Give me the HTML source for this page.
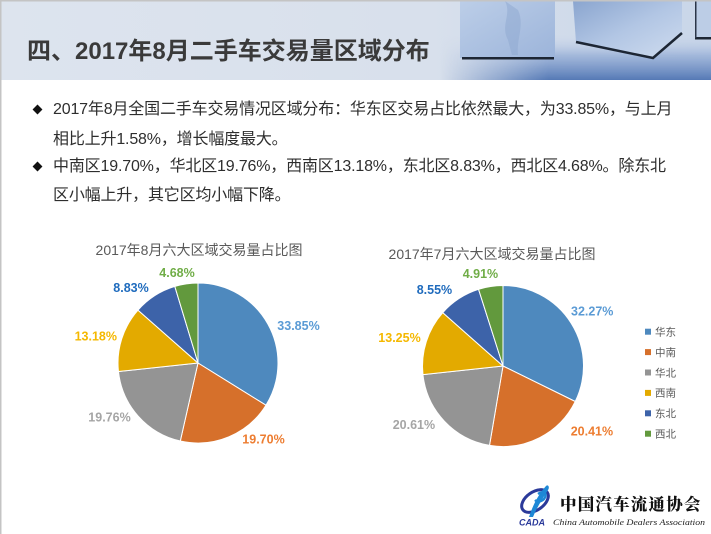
<!DOCTYPE html>
<html><head><meta charset="utf-8">
<style>
html,body{margin:0;padding:0;background:#fff;}
body{width:711px;height:534px;position:relative;overflow:hidden;font-family:"Liberation Sans","Noto Sans CJK SC",sans-serif;}
.t{position:absolute;white-space:nowrap;font-size:16px;line-height:20px;color:#2e2e2e;letter-spacing:-0.17px;font-family:"Liberation Sans","Noto Sans CJK SC",sans-serif;}
.b{position:absolute;width:7px;height:7px;background:#111;transform:rotate(45deg);}
</style></head><body>
<svg width="711" height="534" style="position:absolute;left:0;top:0" xmlns="http://www.w3.org/2000/svg">
<defs>
<linearGradient id="hb" x1="0" y1="0" x2="1" y2="0">
<stop offset="0" stop-color="#dde4ee"/><stop offset="0.6" stop-color="#d8e0ec"/><stop offset="1" stop-color="#c9d6e9"/>
</linearGradient>
<linearGradient id="floor" x1="0" y1="0" x2="0" y2="1">
<stop offset="0" stop-color="#c8d5ea" stop-opacity="0"/><stop offset="0.45" stop-color="#9bb2d8" stop-opacity="0.85"/><stop offset="1" stop-color="#5579b5"/>
</linearGradient>
<linearGradient id="fade" x1="0" y1="0" x2="1" y2="0">
<stop offset="0" stop-color="#fff" stop-opacity="0"/><stop offset="0.4" stop-color="#fff" stop-opacity="1"/><stop offset="1" stop-color="#fff" stop-opacity="1"/>
</linearGradient>
<mask id="fm"><rect x="440" y="0" width="271" height="80" fill="url(#fade)"/></mask>
<linearGradient id="c1" x1="0" y1="0" x2="1" y2="1">
<stop offset="0" stop-color="#bccee8"/><stop offset="1" stop-color="#9cb4da"/>
</linearGradient>
<linearGradient id="c2" x1="0" y1="0" x2="1" y2="1">
<stop offset="0" stop-color="#8aa5cf"/><stop offset="0.5" stop-color="#b2c6e4"/><stop offset="1" stop-color="#cfdcef"/>
</linearGradient>
</defs>
<!-- header band -->
<rect x="0" y="0" width="711" height="80" fill="url(#hb)"/>
<rect x="440" y="35" width="271" height="45" fill="url(#floor)" mask="url(#fm)"/>
<!-- cube 1 -->
<rect x="460" y="1" width="95" height="57" fill="url(#c1)"/>
<path d="M505 1 C512 15 500 25 508 40 L512 55 L518 55 C516 40 525 25 518 10 Z" fill="#8ea8cf" opacity="0.5"/>
<rect x="462" y="57" width="92" height="2.5" fill="#1d2634"/>
<!-- cube 2 -->
<polygon points="573,1 682,1 682,33 653,58 576,42" fill="url(#c2)"/>
<path d="M576 42 L653 58 L682 33" fill="none" stroke="#1d2634" stroke-width="2.5"/>
<!-- cube 3 -->
<rect x="695" y="1" width="16" height="37" fill="#bccde6"/>
<rect x="695" y="37" width="16" height="2.5" fill="#1d2634"/>
<rect x="695" y="1" width="1.5" height="37" fill="#2a3548"/>
<!-- borders -->
<rect x="0" y="0" width="711" height="1.5" fill="#c4c4c4"/>
<rect x="0" y="0" width="1.5" height="534" fill="#c4c4c4"/>

<!-- left pie -->
<g stroke="#fff" stroke-width="1" stroke-linejoin="round">
<path d="M198,363 L198,283 A80,80 0 0,1 265.94,405.22 Z" fill="#4e89be"/>
<path d="M198,363 L265.94,405.22 A80,80 0 0,1 180.30,441.02 Z" fill="#d6702b"/>
<path d="M198,363 L180.30,441.02 A80,80 0 0,1 118.45,371.48 Z" fill="#949494"/>
<path d="M198,363 L118.45,371.48 A80,80 0 0,1 137.95,310.14 Z" fill="#e3aa00"/>
<path d="M198,363 L137.95,310.14 A80,80 0 0,1 174.82,286.43 Z" fill="#3d63a9"/>
<path d="M198,363 L174.82,286.43 A80,80 0 0,1 198,283 Z" fill="#62993d"/>
</g>
<!-- right pie -->
<g stroke="#fff" stroke-width="1" stroke-linejoin="round">
<path d="M503,366 L503,285.5 A80.5,80.5 0 0,1 575.25,401.50 Z" fill="#4e89be"/>
<path d="M503,366 L575.25,401.50 A80.5,80.5 0 0,1 489.51,445.36 Z" fill="#d6702b"/>
<path d="M503,366 L489.51,445.36 A80.5,80.5 0 0,1 422.96,374.63 Z" fill="#949494"/>
<path d="M503,366 L422.96,374.63 A80.5,80.5 0 0,1 442.75,312.62 Z" fill="#e3aa00"/>
<path d="M503,366 L442.75,312.62 A80.5,80.5 0 0,1 478.56,289.30 Z" fill="#3d63a9"/>
<path d="M503,366 L478.56,289.30 A80.5,80.5 0 0,1 503,285.5 Z" fill="#62993d"/>
</g>

<!-- chart titles -->
<g font-family="Liberation Sans, Noto Sans CJK SC, sans-serif" font-size="14" fill="#595959" text-anchor="middle">
<text x="199" y="255">2017年8月六大区域交易量占比图</text>
<text x="492" y="259">2017年7月六大区域交易量占比图</text>
</g>
<!-- labels -->
<g font-family="Liberation Sans, sans-serif" font-size="12.5" font-weight="bold">
<text x="159.3" y="277" fill="#70ad47">4.68%</text>
<text x="113.3" y="292" fill="#1f6bbd">8.83%</text>
<text x="117" y="340.5" fill="#f5b800" text-anchor="end">13.18%</text>
<text x="277.3" y="330" fill="#5b9bd5">33.85%</text>
<text x="242.3" y="443.5" fill="#ed7d31">19.70%</text>
<text x="88.3" y="421.5" fill="#a5a5a5">19.76%</text>

<text x="462.7" y="278" fill="#70ad47">4.91%</text>
<text x="416.7" y="294" fill="#1f6bbd">8.55%</text>
<text x="571" y="315.5" fill="#5b9bd5">32.27%</text>
<text x="378.3" y="342" fill="#f5b800">13.25%</text>
<text x="392.7" y="429" fill="#a5a5a5">20.61%</text>
<text x="570.7" y="435.5" fill="#ed7d31">20.41%</text>
</g>
<!-- legend -->
<g>
<rect x="645" y="328.7" width="6" height="6" fill="#4e89be"/>
<rect x="645" y="349.1" width="6" height="6" fill="#d6702b"/>
<rect x="645" y="369.5" width="6" height="6" fill="#949494"/>
<rect x="645" y="389.9" width="6" height="6" fill="#e3aa00"/>
<rect x="645" y="410.3" width="6" height="6" fill="#3d63a9"/>
<rect x="645" y="430.7" width="6" height="6" fill="#62993d"/>
</g>
<g font-family="Noto Sans CJK SC, sans-serif" font-size="10.5" fill="#595959">
<text x="655" y="335.5">华东</text>
<text x="655" y="355.9">中南</text>
<text x="655" y="376.3">华北</text>
<text x="655" y="396.7">西南</text>
<text x="655" y="417.1">东北</text>
<text x="655" y="437.5">西北</text>
</g>

<!-- logo -->
<g>
<ellipse cx="535" cy="501" rx="15" ry="9" transform="rotate(-35 535 501)" fill="none" stroke="#2b3a9a" stroke-width="3"/>
<path d="M529 517 C533 505 538 495 546 486 C548 484 550 487 548 490 C543 498 537 507 533 517 Z" fill="#1e88d6"/>
<path d="M538 494 C544 490 548 494 544 499 C541 502 537 502 535 500" fill="none" stroke="#1e88d6" stroke-width="2.5"/>
<text x="519" y="525.5" font-family="Liberation Sans, sans-serif" font-size="9" font-weight="bold" font-style="italic" fill="#2b3a9a">CADA</text>
<text x="560" y="510" font-family="Noto Serif CJK SC, Noto Sans CJK SC, serif" font-size="16.5" font-weight="900" fill="#111" letter-spacing="1.2">中国汽车流通协会</text>
<text x="553" y="525" font-family="Liberation Serif, serif" font-size="8.2" font-style="italic" fill="#222" textLength="152" lengthAdjust="spacingAndGlyphs">China Automobile Dealers Association</text>
</g>
</svg>

<div class="t" style="left:27px;top:39px;font-size:24px;line-height:25px;font-weight:bold;color:#3a3a3a;letter-spacing:0;">四、2017年8月二手车交易量区域分布</div>

<div class="b" style="left:34px;top:106px;"></div>
<div class="t" style="left:53px;top:100px;">2017年8月全国二手车交易情况区域分布：华东区交易占比依然最大，为33.85%，与上月</div>
<div class="t" style="left:53px;top:130px;">相比上升1.58%，增长幅度最大。</div>
<div class="b" style="left:34px;top:163px;"></div>
<div class="t" style="left:53px;top:157px;">中南区19.70%，华北区19.76%，西南区13.18%，东北区8.83%，西北区4.68%。除东北</div>
<div class="t" style="left:53px;top:186px;">区小幅上升，其它区均小幅下降。</div>
</body></html>
